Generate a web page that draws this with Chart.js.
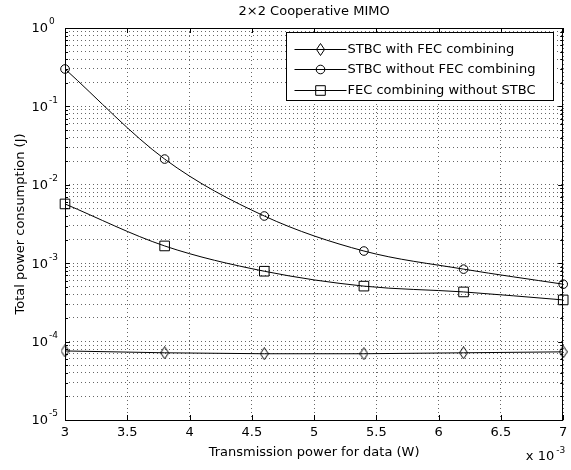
<!DOCTYPE html>
<html>
<head>
<meta charset="utf-8">
<script src="https://cdn.jsdelivr.net/npm/chart.js@4/dist/chart.umd.min.js"></script>
<style>
  html, body { margin: 0; padding: 0; background: #fff; }
  #wrap { width: 571px; height: 470px; }
</style>
</head>
<body>
<div id="wrap"><canvas id="chart" width="571" height="470"></canvas></div>
<script>
// ── Data ─────────────────────────────────────────────
const txPower   = [3, 3.8, 4.6, 5.4, 6.2, 7];            // x 10^-3 W
const stbcFec   = [7.6e-5, 7.2e-5, 7.0e-5, 7.0e-5, 7.2e-5, 7.4e-5];
const stbcNoFec = [0.30, 0.0213, 4.0e-3, 1.43e-3, 8.4e-4, 5.4e-4];
const fecNoStbc = [5.7e-3, 1.66e-3, 7.9e-4, 5.1e-4, 4.3e-4, 3.4e-4];
const seriesNames = ['STBC with FEC combining', 'STBC without FEC combining', 'FEC combining without STBC'];
const xTickStep = 0.5;
const yDecades  = [-5, -4, -3, -2, -1, 0];

const FONT = 'DejaVu Sans';
Chart.defaults.font.family = FONT;
Chart.defaults.font.size = 13;
Chart.defaults.color = '#000';

// tall hollow diamond, like the MATLAB 'd' marker
function diamondMarker() {
    const c = document.createElement('canvas');
    c.width = 9; c.height = 13;
    const g = c.getContext('2d');
    g.strokeStyle = '#000';
    g.lineWidth = 1;
    g.beginPath();
    g.moveTo(4.5, 0.5); g.lineTo(8.5, 6.5); g.lineTo(4.5, 12.5); g.lineTo(0.5, 6.5);
    g.closePath();
    g.stroke();
    return c;
}
const diamond = diamondMarker();

const pts = ys => txPower.map((x, i) => ({ x, y: ys[i] }));

const base = {
    borderColor: '#000',
    borderWidth: 1,
    pointBorderColor: '#000',
    pointBackgroundColor: 'rgba(0,0,0,0)',
    pointBorderWidth: 1,
    clip: false,
};

// ── Extras: border box, inner ticks, title, exponent labels, legend ──
const matlabLook = {
    id: 'matlabLook',
    afterDraw(chart) {
        const { ctx, chartArea: ca, scales } = chart;
        const xs = scales.x, ys = scales.y;
        ctx.save();
        ctx.strokeStyle = '#000';
        ctx.lineWidth = 1;

        // box round the axes
        ctx.strokeRect(Math.round(ca.left) + 0.5, Math.round(ca.top) + 0.5,
                       Math.round(ca.right - ca.left) - 1, Math.round(ca.bottom - ca.top));

        // tick marks pointing inward
        ctx.beginPath();
        xs.ticks.forEach(t => {
            const px = Math.round(xs.getPixelForValue(t.value)) + 0.5;
            ctx.moveTo(px, ca.bottom); ctx.lineTo(px, ca.bottom - 5);
            ctx.moveTo(px, ca.top); ctx.lineTo(px, ca.top + 5);
        });
        ys.ticks.forEach(t => {
            const py = Math.round(ys.getPixelForValue(t.value)) + 0.5;
            const major = Math.abs(Math.log10(t.value) % 1) < 1e-9;
            const len = major ? 5 : 3;
            ctx.moveTo(ca.left, py); ctx.lineTo(ca.left + len, py);
            ctx.moveTo(ca.right, py); ctx.lineTo(ca.right - len, py);
        });
        ctx.stroke();

        // y labels as 10 with a raised exponent
        ctx.fillStyle = '#000';
        yDecades.forEach(p => {
            const py = ys.getPixelForValue(Math.pow(10, p));
            ctx.font = '13px ' + FONT;
            ctx.textAlign = 'right';
            ctx.textBaseline = 'middle';
            ctx.fillText('10', ca.left - 17, py + 1);
            ctx.font = '9px ' + FONT;
            ctx.textAlign = 'left';
            ctx.fillText(String(p), ca.left - 16, py - 6);
        });

        // x multiplier
        ctx.font = '13px ' + FONT;
        ctx.textAlign = 'right';
        ctx.textBaseline = 'middle';
        ctx.fillText('x 10', ca.right - 9, 457);
        ctx.font = '9px ' + FONT;
        ctx.textAlign = 'left';
        ctx.fillText('-3', ca.right - 7, 451);

        // title
        ctx.font = '13px ' + FONT;
        ctx.textAlign = 'center';
        ctx.fillText('2\u00d72 Cooperative MIMO', (ca.left + ca.right) / 2, 12);

        // legend box
        const bw = 267, bh = 68;
        const bx = Math.round(ca.right - 10 - bw) + 0.5, by = Math.round(ca.top + 4) + 0.5;
        ctx.fillStyle = '#fff';
        ctx.fillRect(bx, by, bw, bh);
        ctx.strokeRect(bx, by, bw, bh);
        chart.data.datasets.forEach((ds, i) => {
            const ry = Math.round(by + 16 + i * 20.5) + 0.5;
            ctx.beginPath();
            ctx.moveTo(bx + 8, ry); ctx.lineTo(bx + 60, ry);
            ctx.stroke();
            ctx.fillStyle = 'rgba(0,0,0,0)';
            Chart.helpers.drawPoint(ctx, {
                pointStyle: ds.pointStyle, radius: ds.pointRadius,
                rotation: 0, borderWidth: 1,
            }, bx + 34, ry);
            ctx.fillStyle = '#000';
            ctx.font = '13px ' + FONT;
            ctx.textAlign = 'left';
            ctx.textBaseline = 'middle';
            ctx.fillText(ds.label, bx + 61, ry);
        });
        ctx.restore();
    }
};

new Chart(document.getElementById('chart'), {
    type: 'line',
    data: {
        datasets: [
            { ...base, label: seriesNames[0], data: pts(stbcFec),
              pointStyle: diamond, pointRadius: 5, tension: 0 },
            { ...base, label: seriesNames[1], data: pts(stbcNoFec),
              pointStyle: 'circle', pointRadius: 4.3, cubicInterpolationMode: 'monotone' },
            { ...base, label: seriesNames[2], data: pts(fecNoStbc),
              pointStyle: 'rect', pointRadius: 6.8, cubicInterpolationMode: 'monotone' },
        ],
    },
    options: {
        responsive: false,
        animation: false,
        events: [],
        layout: { padding: { top: 28, right: 7, left: 0, bottom: 0 } },
        plugins: { legend: { display: false }, tooltip: { enabled: false } },
        scales: {
            x: {
                type: 'linear',
                min: 3, max: 7,
                ticks: { stepSize: xTickStep, padding: 5, maxRotation: 0, color: '#000',
                         callback: v => String(Math.round(v * 10) / 10) },
                grid: { color: 'rgba(0,0,0,0.6)', drawTicks: false },
                border: { display: false, dash: [1, 3] },
                title: { display: true, text: 'Transmission power for data (W)',
                         padding: { top: 0, bottom: 10 }, color: '#000' },
                afterFit: s => { s.height = 50; s.paddingRight = 0; s.paddingLeft = 0; },
            },
            y: {
                type: 'logarithmic',
                min: 1e-5, max: 1,
                afterBuildTicks: s => {
                    const t = [];
                    for (let p = -5; p <= 0; p++) {
                        for (let m = 1; m <= 9; m++) {
                            const v = m * Math.pow(10, p);
                            if (v <= 1.0000001) t.push({ value: v });
                        }
                    }
                    s.ticks = t;
                },
                ticks: { display: false },
                grid: { color: 'rgba(0,0,0,0.6)', drawTicks: false },
                border: { display: false, dash: [1, 3] },
                title: { display: true, text: 'Total power consumption (J)',
                         padding: { top: 13, bottom: 0 }, color: '#000' },
                afterFit: s => { s.width = 65; s.paddingTop = 0; s.paddingBottom = 0; },
            },
        },
    },
    plugins: [matlabLook],
});
</script>
</body>
</html>
